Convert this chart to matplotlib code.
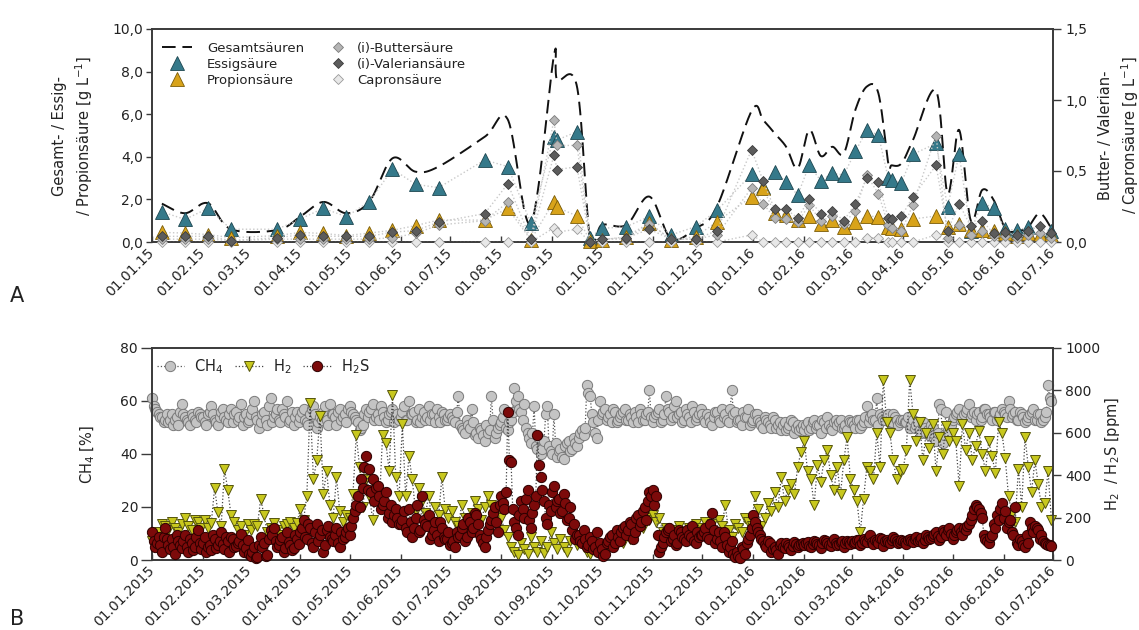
import numpy as np
import pandas as pd
import matplotlib
matplotlib.use("Agg")
import matplotlib.pyplot as plt
import matplotlib.dates as mdates
from matplotlib.ticker import FuncFormatter, MultipleLocator

plt.rcParams["font.family"] = ["DejaVu Sans"]
plt.rcParams["mathtext.default"] = "regular"

# ---------------- Panel A: organic acids (sampling dates) ----------------
acid_dates = [
    "2015-01-07", "2015-01-21", "2015-02-04", "2015-02-18", "2015-03-18", "2015-04-01",
    "2015-04-15", "2015-04-29", "2015-05-13", "2015-05-27", "2015-06-10", "2015-06-24",
    "2015-07-22", "2015-08-05", "2015-08-19", "2015-09-02", "2015-09-04", "2015-09-16",
    "2015-09-24", "2015-10-01", "2015-10-16", "2015-10-30", "2015-11-12", "2015-11-27",
    "2015-12-10", "2015-12-31",
    "2016-01-07", "2016-01-14", "2016-01-21", "2016-01-28", "2016-02-04", "2016-02-11",
    "2016-02-18", "2016-02-25", "2016-03-03", "2016-03-10", "2016-03-17", "2016-03-23",
    "2016-03-25", "2016-03-31", "2016-04-07", "2016-04-21", "2016-04-28", "2016-05-05",
    "2016-05-12", "2016-05-19", "2016-05-26", "2016-06-02", "2016-06-09", "2016-06-16",
    "2016-06-23", "2016-06-30",
]

gesamt = [1.80, 1.35, 1.82, 0.60, 0.56, 1.19, 1.88, 1.35, 1.90, 3.93, 3.30, 3.54, 4.94,
          5.75, 0.88, 8.75, 7.60, 7.30, 0.10, 0.80, 0.80, 2.13, 0.17, 0.64, 1.66, 6.15,
          5.73, 5.10, 4.47, 3.46, 5.26, 4.04, 4.47, 4.16, 6.20, 7.30, 6.98, 3.69, 3.60,
          3.69, 4.79, 7.10, 2.28, 5.26, 1.03, 2.44, 1.97, 0.64, 0.50, 0.72, 1.35, 0.64]

essig = [1.42, 1.06, 1.58, 0.60, 0.60, 1.08, 1.58, 1.19, 1.90, 3.42, 2.71, 2.55, 3.85,
         3.54, 0.88, 4.94, 4.79, 5.18, 0.20, 0.64, 0.72, 1.20, 0.33, 0.72, 1.48, 3.19,
         2.60, 3.30, 2.83, 2.20, 3.61, 2.88, 3.22, 3.15, 4.25, 5.26, 5.02, 2.99, 2.91,
         2.78, 4.12, 4.63, 1.63, 4.13, 0.50, 1.82, 1.61, 0.60, 0.56, 0.69, np.nan, 0.53]

propion = [0.45, 0.42, 0.35, 0.20, 0.30, 0.45, 0.40, 0.30, 0.42, 0.55, 0.77, 1.03, 1.03,
           1.58, 0.10, 1.90, 1.63, 1.22, 0.05, 0.10, 0.25, 0.90, 0.10, 0.25, 0.95, 2.13,
           2.52, 1.35, 1.27, 1.03, 1.22, 0.85, 1.03, 0.69, 0.92, 1.22, 1.19, 0.72, 0.64,
           0.60, 1.08, 1.22, 0.72, 0.85, 0.56, 0.56, 0.50, 0.40, 0.30, 0.40, 0.35, 0.35]

butter = [0.02, 0.02, 0.02, 0.01, 0.02, 0.02, 0.02, 0.02, 0.02, 0.03, 0.06, 0.12, 0.15,
          0.28, 0.02, 0.86, 0.68, 0.68, 0.00, 0.02, 0.02, 0.13, 0.02, 0.02, 0.05, 0.38,
          0.27, 0.17, 0.16, 0.14, 0.26, 0.15, 0.18, 0.13, 0.22, 0.47, 0.34, 0.12, 0.10,
          0.08, 0.26, 0.75, 0.03, 0.12, 0.05, 0.08, 0.04, 0.04, 0.03, 0.05, 0.06, 0.03]

valerian = [0.04, 0.04, 0.04, 0.01, 0.03, 0.05, 0.04, 0.04, 0.04, 0.07, 0.08, 0.14, 0.20,
            0.41, 0.02, 0.61, 0.51, 0.53, 0.00, 0.02, 0.03, 0.09, 0.02, 0.02, 0.08, 0.65,
            0.43, 0.23, 0.23, 0.17, 0.30, 0.20, 0.22, 0.15, 0.27, 0.45, 0.42, 0.17, 0.16,
            0.18, 0.32, 0.54, 0.08, 0.27, 0.11, 0.15, 0.06, 0.07, 0.05, 0.08, 0.11, 0.06]

capron = [0.00, 0.00, 0.00, 0.00, 0.00, 0.00, 0.00, 0.00, 0.00, 0.00, 0.00, 0.00, 0.00,
          0.00, 0.00, 0.10, 0.07, 0.09, 0.00, 0.00, 0.00, 0.00, 0.00, 0.00, 0.00, 0.05,
          0.00, 0.00, 0.00, 0.00, 0.00, 0.00, 0.00, 0.00, 0.00, 0.03, 0.03, 0.00, 0.00,
          0.00, 0.00, 0.05, 0.00, 0.00, 0.00, 0.00, 0.00, 0.00, 0.00, 0.00, 0.00, 0.00]

# ---------------- Panel B: biogas composition ----------------
# CH4 [%] and H2S [ppm]: daily values, split into even days (from 01.01.2015)
# and odd days (from 02.01.2015); H2 [ppm]: every second day from 01.01.2015.
ch4_even = [
    61, 57, 55, 54, 53, 52, 55, 53, 51, 59, 54, 52, 55, 53, 56, 54,          # Jan 15
    52, 55, 58, 53, 51, 56, 54, 52, 57, 55, 53, 59, 54, 52,                  # Feb
    55, 60, 53, 52, 56, 51, 61, 54, 57, 52, 55, 60, 53, 51, 56,              # Mar
    54, 57, 52, 55, 58, 50, 54, 56, 53, 59, 55, 51, 57, 54, 52,              # Apr
    58, 55, 53, 49, 51, 57, 56, 59, 54, 53, 56, 52, 55, 57, 54, 53,          # May
    56, 53, 60, 55, 52, 57, 54, 53, 58, 55, 52, 54, 56, 53, 54,              # Jun
    54, 52, 62, 50, 48, 51, 57, 47, 46, 49, 45, 48, 62, 46, 50,              # Jul
    52, 57, 49, 53, 65, 62, 56, 59, 48, 44, 58, 42, 40, 45, 58, 41,          # Aug
    55, 39, 42, 38, 44, 41, 46, 43, 48, 47, 66, 62, 52, 46, 60,              # Sep
    56, 53, 55, 57, 52, 54, 56, 53, 55, 52, 54, 57, 53, 55, 64,              # Oct
    52, 55, 57, 53, 62, 56, 54, 60, 55, 52, 57, 54, 58, 53, 55,              # Nov
    55, 52, 54, 51, 56, 53, 57, 55, 52, 64, 56, 53, 51, 54, 57, 52,          # Dec
    55, 53, 51, 54, 52, 50, 53, 51, 49, 52, 50, 53, 48, 51, 50,              # Jan 16
    49, 52, 50, 53, 51, 48, 52, 54, 50, 52, 51, 53, 50, 49, 52,              # Feb
    51, 53, 50, 52, 58, 54, 53, 61, 55, 53, 54, 52, 55, 53, 52,              # Mar
    53, 52, 50, 53, 51, 49, 52, 48, 47, 50, 45, 59, 44, 56, 48,              # Apr
    53, 55, 57, 54, 56, 59, 55, 53, 56, 54, 57, 55, 53, 56, 54, 57,          # May
    55, 60, 54, 56, 53, 55, 52, 54, 56, 53, 55, 52, 54, 66, 60,              # Jun
]

ch4_odd = [
    58, 56, 54, 52, 55, 53, 51, 54, 56, 55, 53, 51, 54, 52, 55,              # Jan 15
    54, 51, 56, 55, 52, 54, 57, 53, 55, 52, 56, 54, 51, 55,                  # Feb
    53, 57, 54, 50, 55, 53, 58, 52, 55, 53, 57, 54, 52, 56, 54, 52,          # Mar
    56, 53, 51, 57, 55, 52, 53, 58, 51, 55, 54, 56, 53, 55, 57,              # Apr
    56, 54, 52, 50, 55, 54, 57, 53, 55, 58, 54, 53, 56, 52, 55,              # May
    54, 58, 53, 55, 56, 53, 52, 56, 54, 53, 55, 57, 52, 55, 53,              # Jun
    55, 53, 56, 51, 49, 53, 50, 52, 48, 50, 47, 51, 49, 53, 48, 51,          # Jul
    54, 50, 52, 56, 60, 57, 53, 50, 46, 48, 43, 46, 42, 55, 43,              # Aug
    40, 44, 41, 39, 43, 45, 42, 44, 46, 49, 50, 63, 55, 48, 53,              # Sep
    55, 57, 54, 52, 56, 53, 55, 57, 53, 54, 56, 52, 55, 53, 56, 54,          # Oct
    54, 56, 52, 55, 57, 53, 58, 54, 56, 53, 55, 52, 56, 54, 57,              # Nov
    53, 55, 52, 54, 56, 52, 54, 53, 57, 55, 52, 53, 56, 54, 51,              # Dec
    53, 55, 52, 50, 53, 51, 54, 50, 52, 51, 49, 51, 52, 50, 49, 51,          # Jan 16
    51, 49, 52, 50, 51, 53, 50, 51, 49, 53, 52, 50, 51, 53,                  # Feb
    52, 50, 53, 51, 54, 52, 55, 53, 51, 54, 53, 55, 52, 54, 51, 53,          # Mar
    52, 54, 51, 50, 52, 48, 50, 49, 51, 46, 48, 57, 47, 49, 51,              # Apr
    54, 56, 53, 55, 57, 54, 56, 55, 53, 57, 55, 54, 56, 53, 55,              # May
    56, 54, 57, 55, 53, 56, 54, 53, 55, 57, 53, 55, 53, 56, 61,              # Jun
]

h2 = [
    90, 100, 130, 170, 160, 140, 180, 150, 130, 170, 200, 160, 140, 190, 180, 150,
    190, 150, 175, 340, 225, 160, 430, 330, 210, 180, 140, 160, 120, 170,
    140, 170, 160, 290, 210, 130, 150, 175, 140, 120, 160, 170, 180, 150, 175,
    240, 190, 300, 740, 380, 470, 680, 310, 420, 260, 200, 390, 230, 180, 210,
    200, 310, 590, 440, 250, 380, 300, 190, 340, 260, 590, 550, 420, 780, 390, 300,
    640, 300, 490, 380, 230, 340, 280, 220, 300, 180, 250, 210, 390, 240, 200,
    230, 180, 160, 260, 200, 150, 220, 280, 240, 190, 250, 300, 260, 210, 230,
    200, 140, 110, 60, 40, 25, 80, 50, 30, 110, 60, 40, 90, 35, 60, 130,
    80, 50, 100, 60, 40, 90, 120, 70, 110, 60, 40, 30, 80, 60, 50,
    40, 60, 90, 70, 110, 130, 80, 140, 100, 160, 120, 180, 150, 200, 190,
    210, 180, 200, 130, 150, 90, 140, 110, 160, 120, 100, 150, 130, 170, 140,
    150, 180, 140, 170, 120, 190, 160, 260, 140, 110, 170, 150, 130, 200, 180, 160,
    300, 240, 160, 200, 270, 230, 320, 250, 390, 280, 330, 360, 310, 440, 510,
    560, 420, 380, 260, 450, 370, 470, 520, 400, 330, 440, 310, 470, 580, 380,
    330, 280, 130, 290, 440, 420, 380, 600, 440, 850, 650, 600, 470, 380, 420,
    430, 520, 850, 690, 560, 650, 470, 600, 530, 640, 420, 580, 500, 630, 560,
    600, 560, 350, 640, 520, 600, 470, 540, 610, 500, 420, 560, 490, 410, 650, 600,
    480, 300, 220, 180, 430, 250, 580, 440, 320, 470, 360, 250, 270, 420, 190,
]

h2s_even = [
    130, 60, 110, 40, 150, 70, 100, 30, 90, 55, 120, 40, 80, 60, 140, 50,
    110, 60, 45, 100, 70, 130, 50, 90, 110, 60, 80, 125, 40, 95,
    20, 60, 15, 110, 80, 25, 140, 150, 60, 95, 40, 130, 70, 55, 100,
    130, 190, 100, 150, 60, 170, 120, 40, 140, 110, 90, 150, 60, 100, 130,
    120, 200, 260, 250, 340, 490, 430, 380, 340, 300, 260, 320, 220, 180, 240, 170,
    190, 150, 240, 110, 200, 130, 300, 170, 210, 120, 180, 90, 150, 100, 130,
    80, 60, 110, 150, 90, 200, 130, 220, 170, 100, 60, 140, 190, 250, 130,
    300, 240, 700, 460, 180, 120, 280, 200, 330, 150, 260, 590, 390, 280, 170, 230,
    350, 280, 220, 310, 190, 250, 170, 120, 90, 140, 60, 110, 50, 130, 80,
    20, 80, 110, 60, 140, 90, 150, 120, 180, 100, 200, 160, 230, 190, 320,
    330, 300, 40, 80, 130, 150, 100, 70, 140, 110, 90, 120, 160, 80, 110,
    120, 150, 100, 220, 80, 130, 60, 110, 40, 90, 15, 20, 60, 30, 100, 150,
    180, 130, 100, 70, 90, 40, 60, 30, 80, 55, 70, 45, 85, 60, 75,
    70, 85, 60, 90, 75, 55, 95, 80, 65, 100, 70, 85, 60, 90, 75,
    80, 95, 70, 100, 85, 120, 75, 90, 105, 65, 95, 80, 110, 90, 85,
    90, 75, 100, 85, 110, 95, 80, 120, 100, 115, 130, 95, 140, 120, 150,
    100, 130, 150, 120, 140, 170, 210, 260, 240, 200, 100, 80, 120, 150, 190, 270,
    230, 180, 130, 250, 70, 90, 60, 80, 150, 160, 140, 120, 80, 70, 65,
]

h2s_odd = [
    90, 80, 70, 110, 100, 50, 60, 120, 70, 90, 60, 100, 45, 110, 80,
    80, 40, 70, 120, 55, 90, 75, 110, 40, 100, 65, 90, 70, 55,
    30, 40, 10, 70, 60, 20, 100, 120, 90, 70, 110, 55, 85, 45, 120, 75,
    150, 110, 170, 80, 130, 90, 140, 70, 160, 100, 120, 80, 130, 110, 150,
    160, 230, 300, 380, 440, 330, 320, 280, 350, 240, 280, 200, 260, 210, 200,
    170, 230, 130, 180, 150, 260, 140, 190, 160, 100, 140, 120, 180, 110, 100,
    70, 90, 130, 120, 170, 110, 180, 150, 210, 120, 80, 110, 170, 220, 180, 260,
    270, 320, 470, 240, 150, 210, 240, 290, 190, 220, 300, 450, 330, 200, 260,
    320, 250, 290, 230, 270, 200, 140, 100, 120, 80, 100, 70, 90, 60, 40,
    50, 30, 90, 120, 80, 110, 130, 160, 140, 170, 130, 210, 180, 250, 280, 300,
    260, 120, 60, 110, 140, 90, 120, 80, 130, 100, 140, 110, 90, 130, 120,
    130, 110, 170, 140, 100, 90, 130, 70, 60, 30, 40, 10, 50, 80, 120,
    210, 150, 120, 90, 60, 80, 50, 45, 70, 60, 80, 60, 65, 75, 70, 80,
    80, 65, 75, 85, 70, 80, 90, 70, 85, 80, 75, 90, 80, 85,
    90, 85, 95, 80, 90, 110, 85, 95, 80, 100, 90, 85, 95, 100, 80, 95,
    85, 95, 90, 100, 90, 105, 95, 110, 105, 125, 115, 110, 130, 140, 125,
    120, 140, 130, 150, 160, 190, 240, 250, 220, 120, 90, 110, 170, 210, 240,
    200, 150, 190, 120, 80, 100, 70, 120, 180, 130, 150, 100, 90, 75, 70,
]

# ---------------- figure ----------------
W, H, DPI = 1139, 630, 100
fig = plt.figure(figsize=(W / DPI, H / DPI), dpi=DPI)

x_start = pd.Timestamp("2015-01-01")
x_end = pd.Timestamp("2016-07-01")
spine_col = "#3a3a3a"
text_col = "#222222"


def comma_fmt(decimals):
    return FuncFormatter(lambda v, p: f"{v:.{decimals}f}".replace(".", ","))


def style_axes(ax, ax2, ylen, date_fmt):
    for a in (ax, ax2):
        for s in a.spines.values():
            s.set_color(spine_col)
            s.set_linewidth(1.2)
    ax.set_xlim(x_start, x_end)
    ax.xaxis.set_major_locator(mdates.MonthLocator())
    ax.xaxis.set_major_formatter(mdates.DateFormatter(date_fmt))
    ax.tick_params(axis="x", direction="in", length=4, width=1, color=spine_col,
                   labelsize=10, pad=6, labelcolor=text_col)
    for lab in ax.get_xticklabels():
        lab.set_rotation(45)
        lab.set_ha("right")
        lab.set_va("center")
        lab.set_rotation_mode("anchor")
    ax.tick_params(axis="y", direction="out", length=ylen, width=1, color=spine_col,
                   labelsize=10, pad=2, labelcolor=text_col)
    ax2.tick_params(axis="y", direction="out", length=6, width=1, color=spine_col,
                    labelsize=10, pad=3, labelcolor=text_col)


def smooth_curve(x, y, sx, sy, n=40):
    """Bezier smoothing through the points (Catmull-Rom style control points)."""
    P = np.column_stack([np.asarray(x) * sx, np.asarray(y) * sy])
    out = []
    for i in range(len(P) - 1):
        p0 = P[i - 1] if i > 0 else P[i]
        p1, p2 = P[i], P[i + 1]
        p3 = P[i + 2] if i + 2 < len(P) else P[i + 1]
        c1 = p1 + (p2 - p0) / 6.0
        c2 = p2 - (p3 - p1) / 6.0
        t = np.linspace(0, 1, n)[:, None]
        seg = ((1 - t) ** 3 * p1 + 3 * (1 - t) ** 2 * t * c1
               + 3 * (1 - t) * t ** 2 * c2 + t ** 3 * p2)
        out.append(seg if i == 0 else seg[1:])
    out = np.vstack(out)
    return out[:, 0] / sx, out[:, 1] / sy


# ================= Panel A =================
axA = fig.add_axes([152 / W, 1 - 242 / H, 901 / W, 213 / H])
axA2 = axA.twinx()
dA = pd.to_datetime(acid_dates)
xnum = mdates.date2num(dA)

axA.set_ylim(0, 10)
axA.yaxis.set_major_locator(MultipleLocator(2))
axA.yaxis.set_major_formatter(comma_fmt(1))
axA2.set_ylim(0, 1.5)
axA2.yaxis.set_major_locator(MultipleLocator(0.5))
axA2.yaxis.set_major_formatter(comma_fmt(1))
style_axes(axA, axA2, 4.5, "%d.%m.%y")

px_day = 901 / (x_end - x_start).days
px_unit = 213 / 10.0
gx, gy = smooth_curve(xnum, gesamt, px_day, px_unit)
line_g, = axA.plot(gx, gy, color="#111111", lw=1.4, dashes=(7, 3.5), zorder=3)

dot_col = "#c9c9c9"


def acid_series(ax, values, marker, ms, fc, ec, z):
    v = np.asarray(values, dtype=float)
    ok = np.isfinite(v)
    ax.plot(dA[ok], v[ok], ls=":", color=dot_col, lw=1.0, zorder=z - 1)
    h, = ax.plot(dA, v, ls="none", marker=marker, ms=ms, mfc=fc, mec=ec, mew=0.6,
                 zorder=z, clip_on=False)
    return h


h_ess = acid_series(axA, essig, "^", 9.5, "#35798a", "#1d4650", 4)
h_pro = acid_series(axA, propion, "^", 9.5, "#d8a31a", "#7a5c08", 5)
h_but = acid_series(axA2, butter, "D", 5.6, "#b5b5b5", "#7c7c7c", 4)
h_val = acid_series(axA2, valerian, "D", 5.6, "#5c5c5c", "#3a3a3a", 5)
h_cap = acid_series(axA2, capron, "D", 5.6, "#e8e8e8", "#9a9a9a", 3)

leg_kw = dict(loc="upper left", frameon=False, fontsize=9.5, labelspacing=0.22,
              borderpad=0, borderaxespad=0, numpoints=1)
legA1 = axA2.legend([line_g, h_ess, h_pro], ["Gesamtsäuren", "Essigsäure", "Propionsäure"],
                    bbox_to_anchor=(0.011, 0.94), handlelength=2.3, handletextpad=1.1,
                    **leg_kw)
axA2.add_artist(legA1)
legA2 = axA2.legend([h_but, h_val, h_cap],
                    ["(i)-Buttersäure", "(i)-Valeriansäure", "Capronsäure"],
                    bbox_to_anchor=(0.199, 0.94), handlelength=1.0, handletextpad=0.95,
                    **leg_kw)
for lg in (legA1, legA2):
    for t in lg.get_texts():
        t.set_color(text_col)

axA.set_ylabel("Gesamt- / Essig-\n/ Propionsäure [g L$^{-1}$]", fontsize=10.5,
               linespacing=1.4, color=text_col)
axA.yaxis.set_label_coords(-0.063, 0.5)
axA2.set_ylabel("Butter- / Valerian-\n/ Capronsäure [g L$^{-1}$]", fontsize=10.5,
                linespacing=1.35, color=text_col)
axA2.yaxis.set_label_coords(1.050, 0.5)

# ================= Panel B =================
axB = fig.add_axes([152 / W, 1 - 560 / H, 901 / W, 212 / H])
axB2 = axB.twinx()


def daily(even_vals, odd_vals):
    s_even = pd.Series(even_vals, index=pd.date_range("2015-01-01", periods=len(even_vals), freq="2D"))
    s_odd = pd.Series(odd_vals, index=pd.date_range("2015-01-02", periods=len(odd_vals), freq="2D"))
    return pd.concat([s_even, s_odd]).sort_index()


s_ch4 = daily(ch4_even, ch4_odd)
s_h2s = daily(h2s_even, h2s_odd)
d_h2 = pd.date_range("2015-01-01", periods=len(h2), freq="2D")

axB.set_ylim(0, 80)
axB.yaxis.set_major_locator(MultipleLocator(20))
axB2.set_ylim(0, 1000)
axB2.yaxis.set_major_locator(MultipleLocator(200))
style_axes(axB, axB2, 8, "%d.%m.%Y")

l_ch4, = axB.plot(s_ch4.index, s_ch4.values, ls=":", color="#555555", lw=0.9, marker="o",
                  ms=7.4, mfc="#c4c4c4", mec="#7a7a7a", mew=0.7, clip_on=False)
l_h2, = axB2.plot(d_h2, h2, ls=":", color="#444444", lw=0.9, marker="v", ms=7.6,
                  mfc="#c8c81e", mec="#55550c", mew=0.7, clip_on=False, zorder=2)
l_h2s, = axB2.plot(s_h2s.index, s_h2s.values, ls=":", color="#444444", lw=0.9, marker="o",
                   ms=7.4, mfc="#7c0a0a", mec="#2c0000", mew=0.7, clip_on=False, zorder=3)

legB = axB2.legend([l_ch4, l_h2, l_h2s], ["CH$_4$", "H$_2$", "H$_2$S"], ncol=3,
                   loc="upper left", bbox_to_anchor=(0.005, 0.955), frameon=False,
                   fontsize=10.5, handlelength=1.9, handletextpad=0.7,
                   columnspacing=0.8, borderpad=0, borderaxespad=0, numpoints=1)
for t in legB.get_texts():
    t.set_color(text_col)

axB.set_ylabel("CH$_4$ [%]", fontsize=10.5, color=text_col)
axB.yaxis.set_label_coords(-0.061, 0.5)
axB2.set_ylabel("H$_2$  / H$_2$S [ppm]", fontsize=10.5, color=text_col)
axB2.yaxis.set_label_coords(1.055, 0.5)

# panel letters
fig.text(10 / W, 1 - 302 / H, "A", fontsize=15, color=text_col, va="baseline")
fig.text(10 / W, 1 - 625 / H, "B", fontsize=15, color=text_col, va="baseline")

fig.savefig("out.png", dpi=DPI, facecolor="white")
